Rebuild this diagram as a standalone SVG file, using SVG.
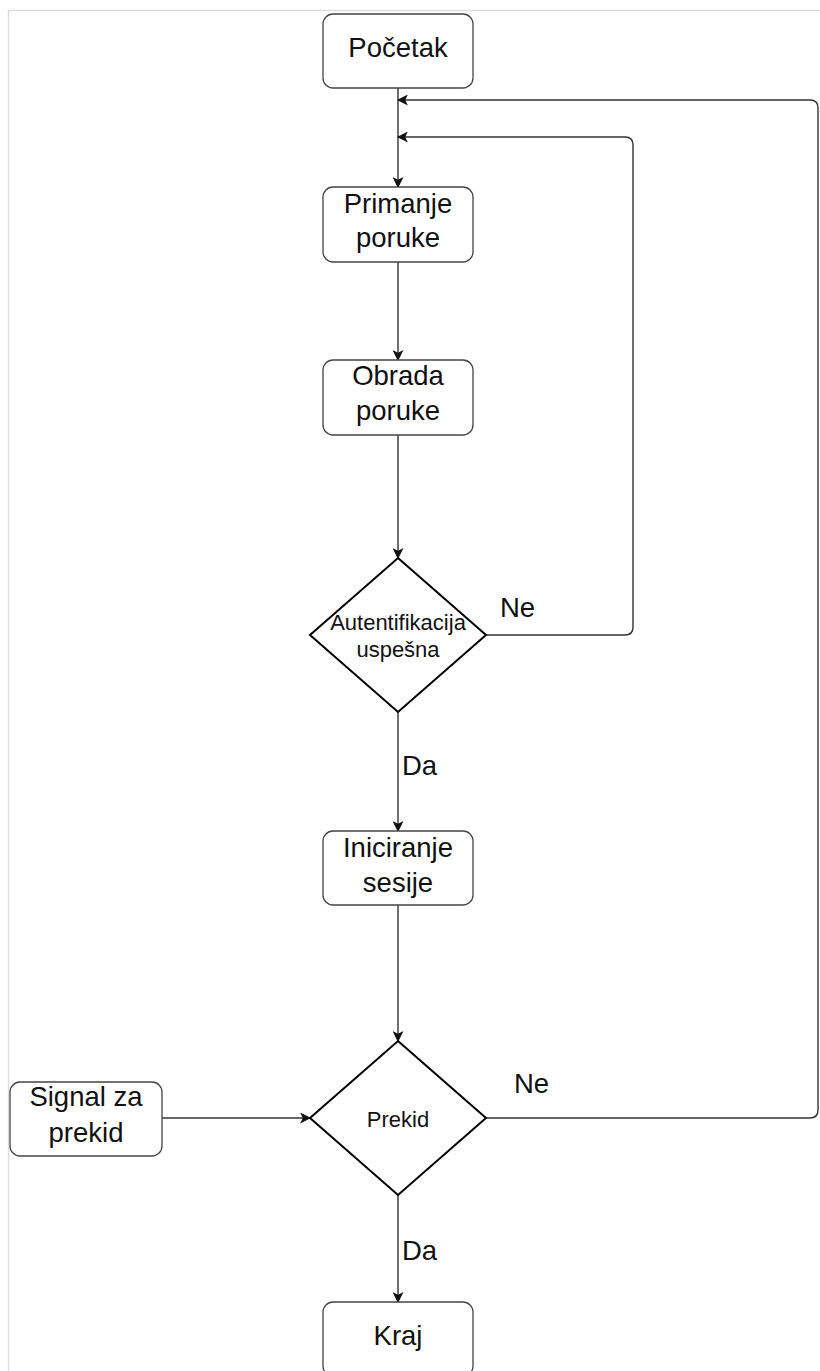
<svg xmlns="http://www.w3.org/2000/svg" width="820" height="1371" viewBox="0 0 820 1371">
  <style>
    .box { fill: #ffffff; stroke: #444444; stroke-width: 1.3; }
    .dia { fill: #ffffff; stroke: #000000; stroke-width: 2; }
    .edge { fill: none; stroke: #333333; stroke-width: 1.4; }
    .t { font-family: "Liberation Sans", Arial, sans-serif; font-size: 27.5px; fill: #111111; text-anchor: middle; }
    .ts { font-family: "Liberation Sans", Arial, sans-serif; font-size: 22px; fill: #111111; text-anchor: middle; }
    .lbl { font-family: "Liberation Sans", Arial, sans-serif; font-size: 27.5px; fill: #111111; }
  </style>
  <defs>
    <marker id="arrow" viewBox="0 0 10 10" refX="9" refY="5" markerWidth="11" markerHeight="11" markerUnits="userSpaceOnUse" orient="auto">
      <path d="M0,0 L10,5 L0,10 L2.5,5 Z" fill="#111111"/>
    </marker>
  </defs>

  <rect x="8.5" y="10.5" width="830" height="1380" fill="none" stroke="#dddddd" stroke-width="1.5"/>

  <g id="connectors">
    <path class="edge" d="M398,88 L398,187" marker-end="url(#arrow)"/>
    <path class="edge" d="M398,262 L398,360" marker-end="url(#arrow)"/>
    <path class="edge" d="M398,435 L398,558" marker-end="url(#arrow)"/>
    <path class="edge" d="M486,635 L625,635 Q633,635 633,627 L633,145 Q633,137 625,137 L398,137" marker-end="url(#arrow)"/>
    <path class="edge" d="M398,712 L398,831" marker-end="url(#arrow)"/>
    <path class="edge" d="M398,905 L398,1041" marker-end="url(#arrow)"/>
    <path class="edge" d="M162,1118 L310,1118" marker-end="url(#arrow)"/>
    <path class="edge" d="M486,1118 L810,1118 Q818,1118 818,1110 L818,108 Q818,100 810,100 L398,100" marker-end="url(#arrow)"/>
    <path class="edge" d="M398,1195 L398,1302" marker-end="url(#arrow)"/>
    <text class="lbl" x="500" y="617">Ne</text>
    <text class="lbl" x="402" y="775">Da</text>
    <text class="lbl" x="514" y="1093">Ne</text>
    <text class="lbl" x="402" y="1260">Da</text>
  </g>

  <g id="pocetak">
    <rect class="box" x="323" y="14" width="150" height="74" rx="10"/>
    <text class="t" x="398" y="57">Početak</text>
  </g>

  <g id="primanje">
    <rect class="box" x="323" y="187" width="150" height="75" rx="10"/>
    <text class="t" x="398" y="213">Primanje</text>
    <text class="t" x="398" y="247">poruke</text>
  </g>

  <g id="obrada">
    <rect class="box" x="323" y="360" width="150" height="75" rx="10"/>
    <text class="t" x="398" y="385">Obrada</text>
    <text class="t" x="398" y="420">poruke</text>
  </g>

  <g id="autentifikacija">
    <polygon class="dia" points="398,558 486,635 398,712 310,635"/>
    <text class="ts" x="398" y="630">Autentifikacija</text>
    <text class="ts" x="398" y="657">uspešna</text>
  </g>

  <g id="iniciranje">
    <rect class="box" x="323" y="831" width="150" height="74" rx="10"/>
    <text class="t" x="398" y="857">Iniciranje</text>
    <text class="t" x="398" y="892">sesije</text>
  </g>

  <g id="prekid">
    <polygon class="dia" points="398,1041 486,1118 398,1195 310,1118"/>
    <text class="ts" x="398" y="1127">Prekid</text>
  </g>

  <g id="signal">
    <rect class="box" x="10" y="1082" width="152" height="74" rx="10"/>
    <text class="t" x="86" y="1106">Signal za</text>
    <text class="t" x="86" y="1142">prekid</text>
  </g>

  <g id="kraj">
    <rect class="box" x="323" y="1302" width="150" height="74" rx="10"/>
    <text class="t" x="398" y="1345">Kraj</text>
  </g>
</svg>
